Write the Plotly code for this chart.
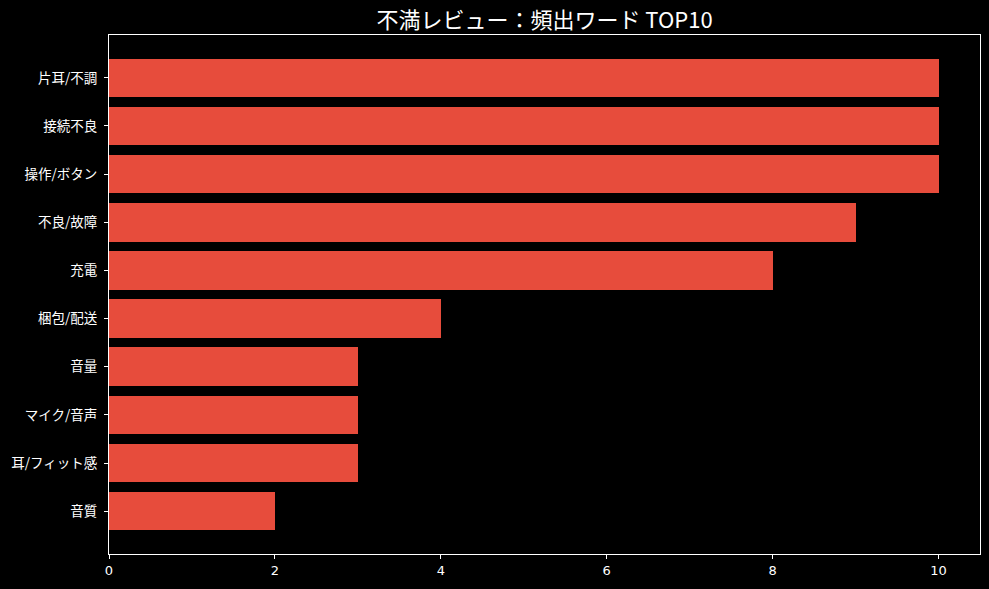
import plotly.graph_objects as go

categories = ["片耳/不調", "接続不良", "操作/ボタン", "不良/故障", "充電", "梱包/配送", "音量", "マイク/音声", "耳/フィット感", "音質"]
counts = [10, 10, 10, 9, 8, 4, 3, 3, 3, 2]
x_ticks = [0, 2, 4, 6, 8, 10]

# plot bottom-to-top like matplotlib barh
cats_plot = categories[::-1]
vals_plot = counts[::-1]

FONT = "Noto Sans CJK JP, DejaVu Sans, sans-serif"

fig = go.Figure(go.Bar(
    x=vals_plot,
    y=list(range(len(cats_plot))),
    orientation="h",
    width=0.8,
    marker=dict(color="#e74c3c", line=dict(width=0)),
    hoverinfo="skip",
))

fig.update_layout(
    width=989, height=589,
    paper_bgcolor="black", plot_bgcolor="black",
    margin=dict(l=109, r=9, t=35, b=35),
    title=dict(text="不満レビュー：頻出ワード TOP10", x=0.5, xref="paper", xanchor="center",
               y=1, yref="paper", yanchor="bottom", pad=dict(b=7),
               font=dict(family=FONT, size=22, color="white")),
    font=dict(family=FONT, color="white", size=13),
    showlegend=False,
    bargap=0,
)
fig.update_xaxes(
    range=[0, 10.5], tickvals=x_ticks, ticktext=[str(v) for v in x_ticks],
    showgrid=False, zeroline=False,
    showline=True, linecolor="white", linewidth=1, mirror=True,
    ticks="outside", ticklen=4, tickcolor="white", tickwidth=1,
    tickfont=dict(family="DejaVu Sans, sans-serif", size=13, color="white"),
)
fig.update_yaxes(
    range=[-0.89, 9.89], tickvals=list(range(len(cats_plot))), ticktext=cats_plot,
    showgrid=False, zeroline=False,
    showline=True, linecolor="white", linewidth=1, mirror=True,
    ticks="outside", ticklen=4, tickcolor="white", tickwidth=1,
    ticklabelstandoff=4,
    tickfont=dict(family=FONT, size=13.5, color="white"),
)

fig.write_html("out.html", config={"displayModeBar": False},
               post_script="document.body.style.margin='0';document.body.style.background='black';")
